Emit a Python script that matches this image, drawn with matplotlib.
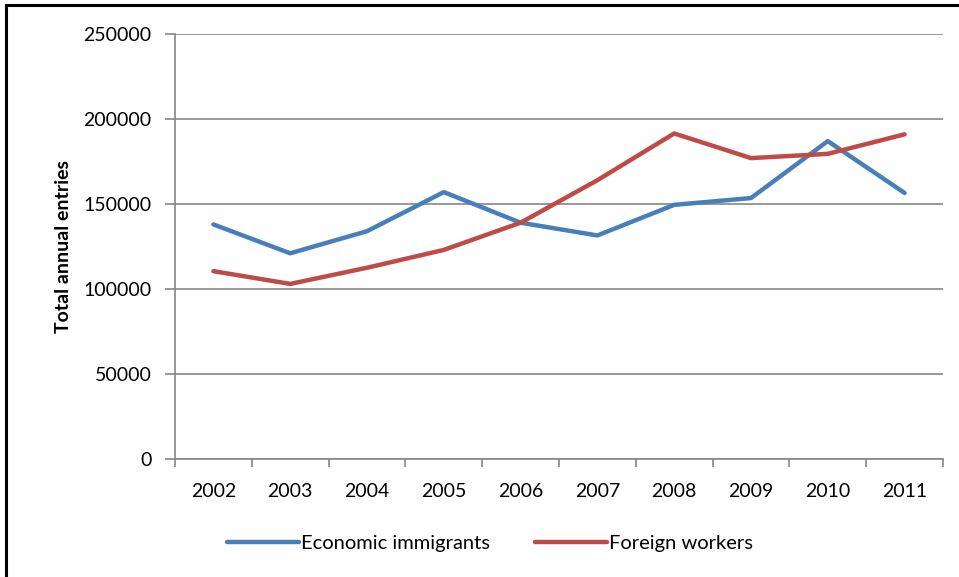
import matplotlib.pyplot as plt
from matplotlib.lines import Line2D

plt.rcParams['font.family'] = ['Lato', 'DejaVu Sans']

years = ['2002', '2003', '2004', '2005', '2006', '2007', '2008', '2009', '2010', '2011']
economic_immigrants = [138000, 121000, 134000, 157000, 139000, 131500, 149500, 153500, 187000, 156500]
foreign_workers = [110500, 103000, 112500, 123000, 139000, 164000, 191500, 177000, 179500, 191000]

fig = plt.figure(figsize=(9.59, 5.77), dpi=100)
ax = fig.add_axes([175/959, 1-459/577, 768/959, 425/577])

x = range(len(years))
ax.plot(x, economic_immigrants, color='#4A7EBB', lw=3.2, label='Economic immigrants', solid_capstyle='round')
ax.plot(x, foreign_workers, color='#BE4B48', lw=3.2, label='Foreign workers', solid_capstyle='round')

ax.set_xlim(-0.5, len(years) - 0.5)
ax.set_ylim(0, 250000)
ax.set_yticks(range(0, 250001, 50000))
ax.set_xticks(list(x))
ax.set_xticklabels(years)
ax.set_xticks([i - 0.5 for i in range(len(years) + 1)], minor=True)
ax.tick_params(axis='x', which='major', length=0, pad=17, labelsize=14)
ax.tick_params(axis='x', which='minor', length=6, color='#868686', width=1.2)
ax.tick_params(axis='y', length=7, color='#868686', width=1.2, pad=10, labelsize=14)

ax.grid(axis='y', color='#868686', lw=1.2)
ax.set_axisbelow(True)
for s in ['top', 'right']:
    ax.spines[s].set_visible(False)
for s in ['left', 'bottom']:
    ax.spines[s].set_color('#868686')
    ax.spines[s].set_linewidth(1.2)

ax.set_ylabel('Total annual entries', fontsize=14, fontweight='bold', labelpad=8)

ax.legend(loc='center', bbox_to_anchor=(490/959, 1-543/577), bbox_transform=fig.transFigure,
          ncol=2, frameon=False, fontsize=14.5, handlelength=3.6, handletextpad=0.1,
          columnspacing=2.2)

# chart border (cropped on right and bottom)
fig.add_artist(Line2D([6/959, 1], [1-5/577, 1-5/577], color='black', lw=2.2, transform=fig.transFigure))
fig.add_artist(Line2D([6/959, 6/959], [0, 1-5/577], color='black', lw=2.2, transform=fig.transFigure))

fig.savefig('out.png', dpi=100)
